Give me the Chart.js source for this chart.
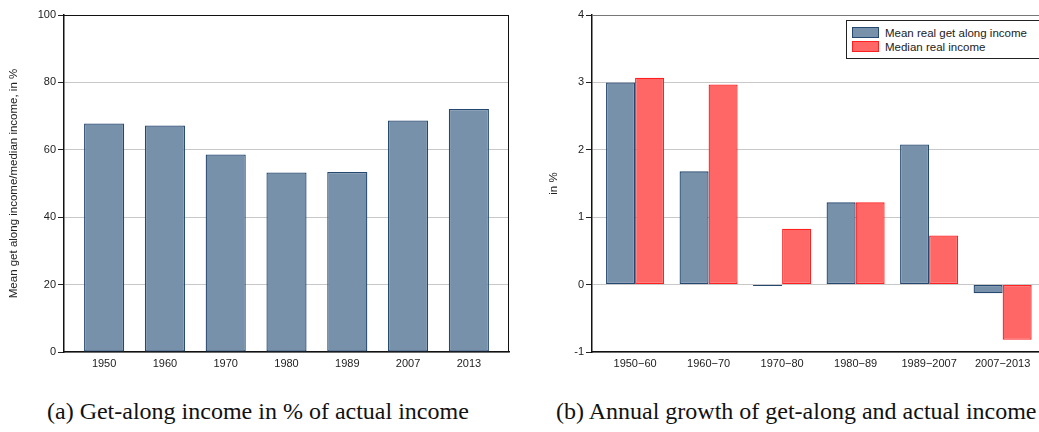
<!DOCTYPE html>
<html>
<head>
<meta charset="utf-8">
<script src="https://cdn.jsdelivr.net/npm/chart.js@4/dist/chart.umd.min.js"></script>
<style>
  html, body { margin: 0; padding: 0; background: #fff; overflow: hidden; }
  body { width: 1039px; height: 432px; position: relative; font-family: "Liberation Sans", Arial, sans-serif; }
  .panel { position: absolute; top: 0; height: 372px; }
  #left-panel { left: 0; width: 515px; }
  #right-panel { left: 540px; width: 506px; }
  .caption { position: absolute; top: 398px; font-family: "Liberation Serif", "Times New Roman", serif; font-size: 24px; color: #111; white-space: nowrap; }
  #legend { position: absolute; left: 846px; top: 20px; width: 210px; height: 37px; border: 1px solid #222; background: #fff; font-size: 11.5px; color: #222; }
  .item { position: absolute; left: 5px; height: 12px; line-height: 12px; }
  .sw { position: absolute; left: 0; top: 0; width: 25px; height: 9px; }
  .item span { position: absolute; left: 33px; top: 0; white-space: nowrap; }
</style>
</head>
<body>
<div class="panel" id="left-panel"><canvas id="left-chart"></canvas></div>
<div class="panel" id="right-panel"><canvas id="right-chart"></canvas></div>
<div id="legend">
  <div class="item" style="top:6px"><div class="sw" style="background:#7891ab;border:1px solid #24486f"></div><span>Mean real get along income</span></div>
  <div class="item" style="top:20px"><div class="sw" style="background:#ff6666;border:1px solid #ff2020"></div><span>Median real income</span></div>
</div>
<div class="caption" style="left:47px">(a) Get-along income in % of actual income</div>
<div class="caption" style="left:556px">(b) Annual growth of get-along and actual income</div>
<script>
// 左: 年ごとの割合
const years = ['1950', '1960', '1970', '1980', '1989', '2007', '2013'];
const shareValues = [67.8, 67.2, 58.6, 53.3, 53.4, 68.7, 72.1];

// 右: 期間ごとの年成長率
const periods = ['1950\u221260', '1960\u221270', '1970\u221280', '1980\u221289', '1989\u22122007', '2007\u22122013'];
const meanGrowth = [3.0, 1.68, -0.02, 1.22, 2.08, -0.13];
const medianGrowth = [3.07, 2.97, 0.83, 1.22, 0.73, -0.82];

const tickFont = { family: 'Liberation Sans', size: 11 };

// 値の配列を {x: 番号, y: 値} に
const toPoints = values => values.map((v, i) => ({ x: i, y: v }));

// プロット領域の上と右の枠線
const frame = {
    id: 'frame',
    afterDatasetsDraw(chart, args, opts) {
        const a = chart.chartArea;
        const ctx = chart.ctx;
        ctx.save();
        ctx.lineWidth = 1;
        ctx.strokeStyle = opts.top;
        ctx.beginPath();
        ctx.moveTo(a.left, a.top + 0.5);
        ctx.lineTo(a.right, a.top + 0.5);
        ctx.stroke();
        ctx.strokeStyle = opts.right;
        ctx.beginPath();
        ctx.moveTo(a.right - 0.5, a.top);
        ctx.lineTo(a.right - 0.5, a.bottom);
        ctx.stroke();
        ctx.restore();
    }
};

function yScale(min, max, step, title, fitWidth) {
    return {
        min: min, max: max,
        ticks: { stepSize: step, color: '#222', font: tickFont, padding: 2 },
        grid: { color: '#c8c8c8', tickColor: '#222', tickLength: 6, lineWidth: 1 },
        border: { color: '#111', width: 1.5 },
        title: { display: true, text: title, color: '#222', font: { family: 'Liberation Sans', size: 11.5 }, padding: { top: 7, bottom: 0 } },
        afterFit(s) { s.width = fitWidth; }
    };
}

// 横軸は数値軸にして、両端に余白を持たせる
function xScale(labels, min, max) {
    return {
        type: 'linear',
        min: min, max: max,
        offset: false,
        grid: { display: false, drawTicks: false },
        ticks: { color: '#222', font: tickFont, padding: 5, maxRotation: 0, autoSkip: false,
                 callback: v => labels[v] },
        afterBuildTicks(s) { s.ticks = labels.map((_, i) => ({ value: i })); },
        border: { color: '#111', width: 1.5 },
        afterFit(s) { s.height = 20; }
    };
}

new Chart(document.getElementById('left-chart'), {
    type: 'bar',
    data: {
        datasets: [{
            data: toPoints(shareValues),
            backgroundColor: '#7891ab',
            borderColor: '#24486f',
            borderWidth: 1.3,
            borderSkipped: false,
            barPercentage: 0.66,
            categoryPercentage: 1
        }]
    },
    options: {
        responsive: true,
        maintainAspectRatio: false,
        animation: false,
        layout: { padding: { top: 15, right: 6, left: 0, bottom: 0 } },
        plugins: { legend: { display: false }, tooltip: { enabled: false }, frame: { top: '#111', right: '#111' } },
        scales: {
            x: xScale(years, -0.66, 6.66),
            y: yScale(0, 100, 20, 'Mean get along income/median income, in %', 64)
        }
    },
    plugins: [frame]
});

new Chart(document.getElementById('right-chart'), {
    type: 'bar',
    data: {
        datasets: [{
            label: 'Mean real get along income',
            data: toPoints(meanGrowth),
            backgroundColor: '#7891ab',
            borderColor: '#24486f',
            borderWidth: 1.3,
            borderSkipped: false
        }, {
            label: 'Median real income',
            data: toPoints(medianGrowth),
            backgroundColor: '#ff6666',
            borderColor: '#ff2020',
            borderWidth: 1.3,
            borderSkipped: false
        }]
    },
    options: {
        responsive: true,
        maintainAspectRatio: false,
        animation: false,
        datasets: { bar: { barPercentage: 1, categoryPercentage: 0.79 } },
        layout: { padding: { top: 15, right: 0, left: 0, bottom: 0 } },
        plugins: { legend: { display: false }, tooltip: { enabled: false }, frame: { top: '#777', right: '#777' } },
        scales: {
            x: xScale(periods, -0.586, 5.59),
            y: yScale(-1, 4, 1, 'in %', 52)
        }
    },
    plugins: [frame]
});
</script>
</body>
</html>
